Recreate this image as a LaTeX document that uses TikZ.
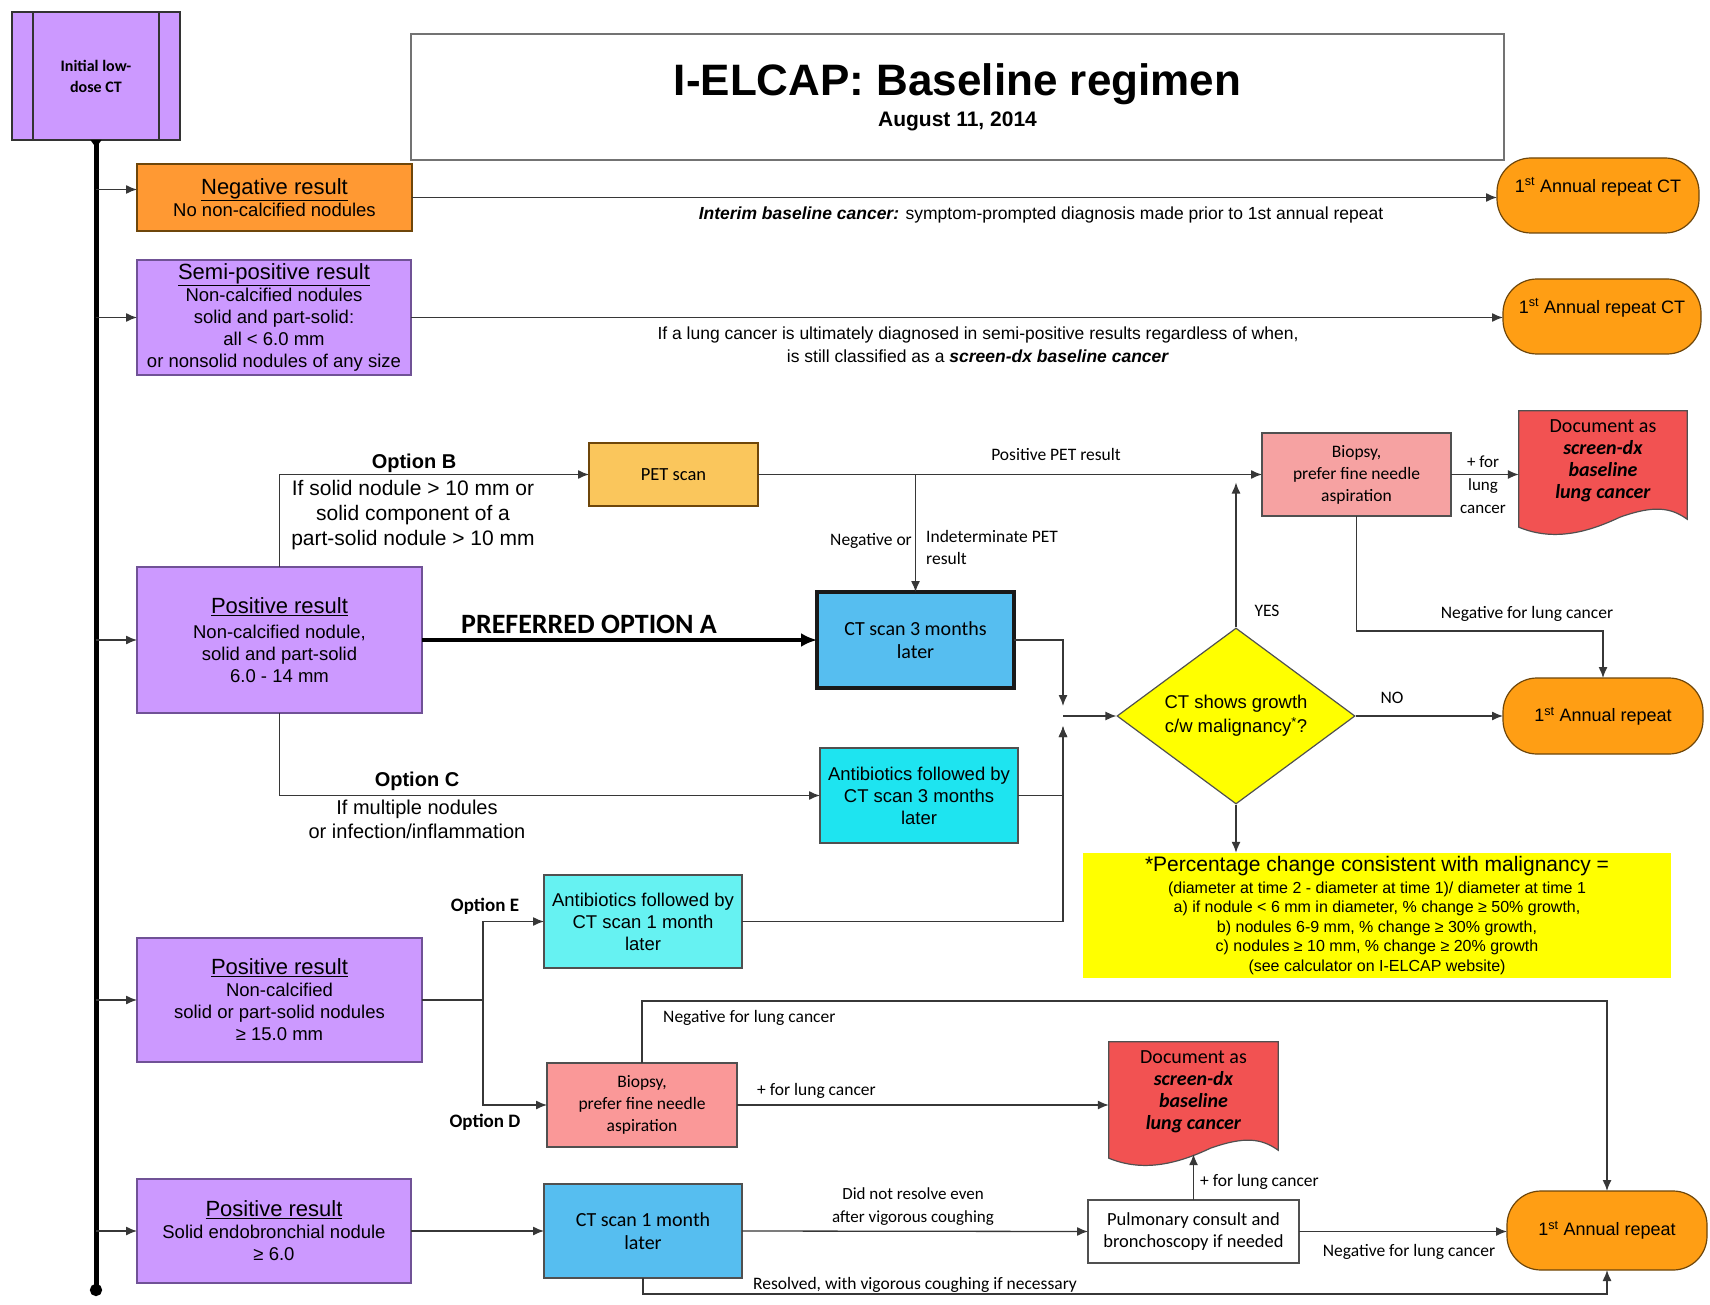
\documentclass[tikz,border=0pt]{standalone}
\usepackage{fontspec}
\setmainfont{Liberation Sans}
\newfontfamily\calfont{Carlito}
\usetikzlibrary{arrows.meta,calc,backgrounds,shapes.geometric}
\newcommand{\myfs}[2]{\fontsize{#1}{#2}\selectfont}
\newcommand{\hd}[1]{{\myfs{22}{26}\underline{#1}}}
\definecolor{purp}{RGB}{204,153,255}
\definecolor{purpd}{RGB}{112,82,150}
\definecolor{negf}{RGB}{255,153,51}
\definecolor{annf}{RGB}{255,158,20}
\definecolor{annd}{RGB}{110,70,10}
\definecolor{petf}{RGB}{250,198,92}
\definecolor{ctblue}{RGB}{86,190,240}
\definecolor{cyanA}{RGB}{30,228,240}
\definecolor{cyanB}{RGB}{102,242,242}
\definecolor{pinkA}{RGB}{246,162,162}
\definecolor{pinkB}{RGB}{250,152,152}
\definecolor{docred}{RGB}{242,82,82}
\definecolor{yel}{RGB}{255,255,0}
\definecolor{linec}{RGB}{55,55,55}
\definecolor{boxd}{RGB}{80,80,80}
\newcommand{\docshape}[1]{%
\path[docst] let \p1=(#1.north west), \p2=(#1.south east), \n1={\x2-\x1} in
 (\x1,\y1) -- (\x2,\y1) -- ({\x2},{\y2-8})
 .. controls ({\x1+0.9*\n1},{\y2+4}) and ({\x1+0.8*\n1},{\y2+6}) .. ({\x1+0.6*\n1},{\y2-6})
 .. controls ({\x1+0.4*\n1},{\y2-22}) and ({\x1+0.2*\n1},{\y2-30}) .. ({\x1},{\y2-16}) -- cycle;}
\begin{document}
\begin{tikzpicture}[x=1pt,y=-1pt,
 sz/.style 2 args={minimum width=#1pt,minimum height=#2pt},
 box/.style={rectangle,draw=boxd,line width=1.2pt,align=center,inner sep=1pt,outer sep=0pt,font=\myfs{18.5}{22}},
 pbox/.style={box,fill=purp,draw=purpd},
 cbox/.style={box,font=\calfont\myfs{18.5}{22}},
 term/.style={box,rounded corners=34pt,fill=annf,draw=annd,font=\myfs{18}{21}},
 docst/.style={fill=docred,draw=boxd,line width=1.2pt},
 doctext/.style={rectangle,align=center,inner sep=0pt,font=\calfont\myfs{20}{22}},
 lab/.style={align=center,inner sep=0pt,font=\calfont\myfs{17.5}{22}},
 alab/.style={align=center,inner sep=0pt,font=\myfs{21}{25}},
 arr/.style={draw=linec,line width=1.3pt,-{Latex[length=11pt,width=9pt]}},
 ln/.style={draw=linec,line width=1.3pt},
 timeline/.style={draw=black,line width=5pt,{Latex[reversed,length=9pt,width=12pt]}-{Circle[length=12pt]}},
 bigarr/.style={draw=black,line width=4pt,-{Latex[length=16pt,width=14pt]}}
]
\begin{scope}[on background layer]
\fill[white] (0,0) rectangle (1710,1305);
\end{scope}
\useasboundingbox (0,0) rectangle (1710,1305);

% ---------- nodes ----------
\node[pbox,sz={168}{128},draw=black!80,font=\calfont\bfseries\myfs{16}{21}] (init) at (96,76) {Initial low-\\dose CT};
\draw[draw=black!80,line width=1.2pt] ($(init.north west)+(21,0)$) -- ($(init.south west)+(21,0)$);
\draw[draw=black!80,line width=1.2pt] ($(init.north east)+(-21,0)$) -- ($(init.south east)+(-21,0)$);

\node[box,sz={1093}{126},draw=black!55,line width=1.8pt,fill=white,font=\bfseries\myfs{21}{31}] (title) at (957.5,97)
 {{\myfs{44}{50}I-ELCAP: Baseline regimen}\\August 11, 2014};

\node[box,fill=negf,draw=annd,sz={275}{67}] (neg) at (274.5,197.5) {\hd{Negative result}\\No non-calcified nodules};
\node[pbox,sz={274}{115}] (semi) at (274,317.5) {\hd{Semi-positive result}\\Non-calcified nodules\\solid and part-solid:\\all < 6.0 mm\\or nonsolid nodules of any size};
\node[term,sz={202}{75}] (ann1) at (1598,195.5) {1\textsuperscript{st} Annual repeat CT\\\mbox{}};
\node[term,sz={198}{75}] (ann2) at (1602,316.5) {1\textsuperscript{st} Annual repeat CT\\\mbox{}};

\node[pbox,sz={285}{146}] (pos1) at (279.5,640) {\hd{Positive result}\\[3pt]Non-calcified nodule,\\solid and part-solid\\6.0 - 14 mm};
\node[cbox,fill=petf,draw=annd,sz={169}{63}] (pet) at (673.5,474.5) {PET scan};
\node[cbox,fill=ctblue,draw=black!90,line width=3.5pt,sz={197}{96},font=\calfont\myfs{20}{23}] (ct3) at (915.5,640) {CT scan 3 months\\later};
\node[box,fill=cyanA,draw=boxd,sz={198}{95}] (anti3) at (919,795.5) {Antibiotics followed by\\CT scan 3 months\\later};
\node[diamond,draw=boxd,line width=1.2pt,fill=yel,sz={238}{176},aspect=1.35,inner sep=0pt,align=center,font=\myfs{18.5}{24}] (dia) at (1236,716) {CT shows growth\\c/w malignancy\textsuperscript{*}?};
\node[cbox,fill=pinkA,draw=boxd,sz={189}{83},font=\calfont\myfs{17.5}{22}] (bio1) at (1356.5,474.5) {Biopsy,\\prefer fine needle\\aspiration};
\node[doctext,sz={168}{100}] (doc1) at (1603,461) {Document as\\\textbf{\textit{screen-dx}}\\\textbf{\textit{baseline}}\\\textbf{\textit{lung cancer}}};
\node[term,sz={200}{76}] (ann3) at (1603,716) {1\textsuperscript{st} Annual repeat};
\node[rectangle,fill=yel,sz={588}{125},align=center,inner sep=0pt,font=\myfs{16}{19.5}] (note) at (1377,915.5)
 {{\myfs{21}{24}*Percentage change consistent with malignancy =}\\[2pt]
  (diameter at time 2 - diameter at time 1)/ diameter at time 1\\
  a) if nodule < 6 mm in diameter, \% change ≥ 50\% growth,\\
  b) nodules 6-9 mm, \% change ≥ 30\% growth,\\
  c) nodules ≥ 10 mm, \% change ≥ 20\% growth\\
  (see calculator on I-ELCAP website)};

\node[pbox,sz={285}{124}] (pos2) at (279.5,1000) {\hd{Positive result}\\Non-calcified\\solid or part-solid nodules\\≥ 15.0 mm};
\node[box,fill=cyanB,draw=boxd,sz={198}{93}] (anti1) at (643,921.5) {Antibiotics followed by\\CT scan 1 month\\later};
\node[cbox,fill=pinkB,draw=boxd,sz={190}{84},font=\calfont\myfs{17.5}{22}] (bio2) at (642,1105) {Biopsy,\\prefer fine needle\\aspiration};
\node[doctext,sz={169}{100}] (doc2) at (1193.5,1092) {Document as\\\textbf{\textit{screen-dx}}\\\textbf{\textit{baseline}}\\\textbf{\textit{lung cancer}}};

\node[pbox,sz={274}{104}] (pos3) at (274,1231) {\hd{Positive result}\\Solid endobronchial nodule\\≥ 6.0};
\node[cbox,fill=ctblue,draw=boxd,sz={198}{94},font=\calfont\myfs{20}{23}] (ct1) at (643,1231) {CT scan 1 month\\later};
\node[cbox,fill=white,draw=boxd,sz={211}{63}] (pulm) at (1193.5,1231.5) {Pulmonary consult and\\bronchoscopy if needed};
\node[term,sz={200}{79}] (ann4) at (1607,1230.5) {1\textsuperscript{st} Annual repeat};

\begin{scope}[on background layer]
\docshape{doc1}
\docshape{doc2}
\end{scope}

% ---------- coordinates ----------
\coordinate (tlend) at (96,1296);
\coordinate (mg) at (1063,716);
\coordinate (mgt) at (1063,706);
\coordinate (mgb) at (1063,726);
\coordinate (sp) at (483,1000);

% ---------- connectors ----------
\draw[timeline] (init.south) -- (tlend);
\draw[arr] ($(neg.west -| tlend)+(0,-8)$) -- ($(neg.west)+(0,-8)$);
\draw[arr] (semi.west -| tlend) -- (semi.west);
\draw[arr] (pos1.west -| tlend) -- (pos1.west);
\draw[arr] (pos2.west -| tlend) -- (pos2.west);
\draw[arr] (pos3.west -| tlend) -- (pos3.west);

\draw[arr] (neg.east) -- (neg.east -| ann1.west);
\draw[arr] (semi.east) -- (semi.east -| ann2.west);

\draw[bigarr] (pos1.east) -- (ct3.west);
\draw[arr] (pos1.north) |- (pet.west);
\draw[arr] (pos1.south) |- (anti3.west);
\draw[arr] (pet.east) -- (bio1.west);
\draw[arr] (pet.east -| ct3.north) -- (ct3.north);
\draw[arr] (ct3.east) -| (mgt);
\draw[arr] (anti3.east) -| (mgb);
\draw[arr] (anti1.east) -| (mgb);
\draw[arr] (mg) -- (dia.west);
\draw[arr] (dia.north) -- ($(dia.north |- pet.east)+(0,8)$);
\draw[arr] (dia.east) -- (ann3.west);
\draw[arr] (dia.south) -- (dia.south |- note.north);
\draw[arr] (bio1.east) -- (bio1.east -| doc1.west);
\draw[arr] (bio1.south) -- ++(0,115) -| (ann3.north);

\draw[ln] (pos2.east) -- (sp);
\draw[arr] (sp) |- (anti1.west);
\draw[arr] (sp) |- (bio2.west);
\draw[arr] (bio2.north) -- ++(0,-62) -| (ann4.north);
\draw[arr] (bio2.east) -- (bio2.east -| doc2.west);

\draw[arr] (pos3.east) -- (ct1.west);
\draw[arr] (ct1.east) -- (pulm.west);
\draw[arr] (pulm.north) -- ($(doc2.south)+(0,12)$);
\draw[arr] (pulm.east) -- (pulm.east -| ann4.west);
\draw[arr] (ct1.south) -- ++(0,16) -| (ann4.south);

% ---------- labels ----------
\node[inner sep=0pt,font=\myfs{17.5}{20}] (lint) at (1041,215) {\textbf{\textit{Interim baseline cancer:}} symptom-prompted diagnosis made prior to 1st annual repeat};
\node[inner sep=0pt,align=center,font=\myfs{17.5}{23}] (lsemi) at (978,345) {If a lung cancer is ultimately diagnosed in semi-positive results regardless of when,\\is still classified as a \textbf{\textit{screen-dx baseline cancer}}};
\node[alab,font=\bfseries\myfs{20}{25}] (lB) at (414,463) {Option B};
\node[alab] (lBc) at (413,515) {If solid nodule > 10 mm or\\solid component of a\\part-solid nodule > 10 mm};
\node[inner sep=0pt,font=\calfont\bfseries\myfs{28}{30}] (lA) at (589,624) {PREFERRED OPTION A};
\node[alab,font=\bfseries\myfs{20}{25}] (lC) at (417,781) {Option C};
\node[alab,font=\myfs{20}{24}] (lCc) at (417,819) {If multiple nodules\\or infection/inflammation};
\node[lab] (lpos) at (1056,454) {Positive PET result};
\node[lab,anchor=east] (lnegor) at (912,541) {Negative or};
\node[lab,anchor=north west,align=left] (lind) at (926,530) {Indeterminate PET\\result};
\node[lab] (lyes) at (1267,611) {YES};
\node[lab] (lno) at (1392,698) {NO};
\node[lab,font=\calfont\myfs{17}{23}] (lfor1) at (1483,485) {+ for\\lung\\cancer};
\node[lab] (lneg1) at (1527,614) {Negative for lung cancer};
\node[lab,font=\calfont\bfseries\myfs{19}{22}] (lE) at (485,906) {Option E};
\node[lab,font=\calfont\bfseries\myfs{19}{22}] (lD) at (485,1122) {Option D};
\node[lab,anchor=west] (lneg2) at (663,1018) {Negative for lung cancer};
\node[lab,anchor=west] (lfor2) at (757,1091) {+ for lung cancer};
\node[lab,font=\calfont\myfs{17}{23}] (ldid) at (913,1207) {Did not resolve even\\after vigorous coughing};
\node[lab,anchor=west] (lfor3) at (1200,1182) {+ for lung cancer};
\node[lab] (lneg3) at (1409,1252) {Negative for lung cancer};
\node[lab] (lres) at (915,1285) {Resolved, with vigorous coughing if necessary};
\end{tikzpicture}
\end{document}
